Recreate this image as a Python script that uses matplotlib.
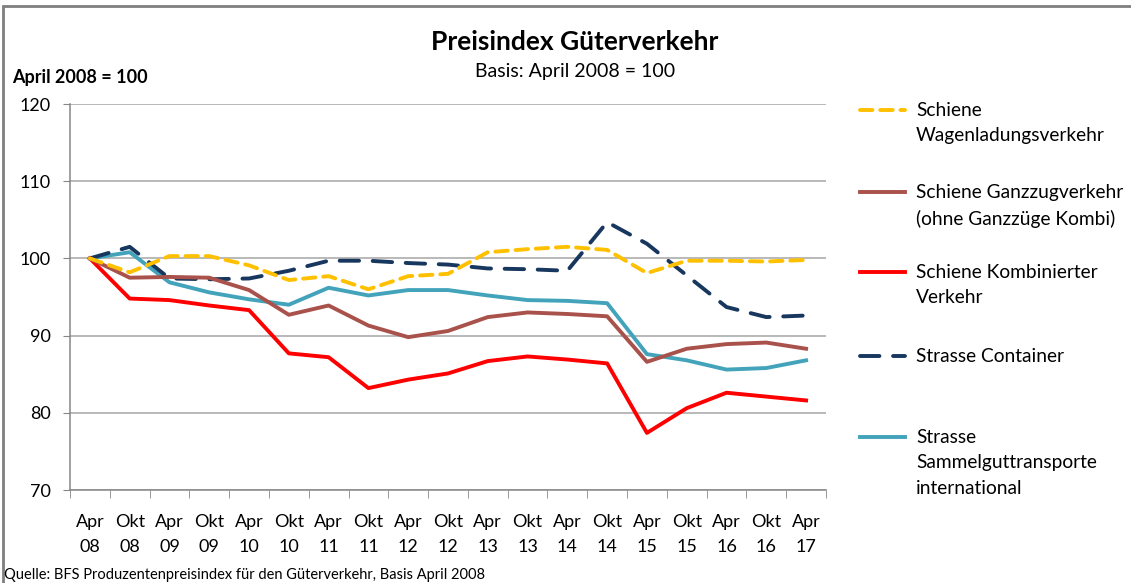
import matplotlib
matplotlib.use("Agg")
import matplotlib.pyplot as plt
from matplotlib.lines import Line2D
from matplotlib.patches import Rectangle
from matplotlib.ticker import FixedLocator, MultipleLocator

plt.rcParams['font.family'] = ['Lato', 'DejaVu Sans']

# periods: April / October 2008 .. April 2017
periods = ["Apr\n08", "Okt\n08", "Apr\n09", "Okt\n09", "Apr\n10", "Okt\n10", "Apr\n11",
           "Okt\n11", "Apr\n12", "Okt\n12", "Apr\n13", "Okt\n13", "Apr\n14", "Okt\n14",
           "Apr\n15", "Okt\n15", "Apr\n16", "Okt\n16", "Apr\n17"]

wagenladung = [100, 98.2, 100.3, 100.3, 99.1, 97.2, 97.7, 96.0, 97.7, 98.0,
               100.8, 101.2, 101.5, 101.1, 98.1, 99.7, 99.7, 99.6, 99.8]
ganzzug = [100, 97.5, 97.6, 97.5, 95.9, 92.7, 93.9, 91.3, 89.8, 90.6,
           92.4, 93.0, 92.8, 92.5, 86.6, 88.3, 88.9, 89.1, 88.3]
kombiniert = [100, 94.8, 94.6, 93.9, 93.3, 87.7, 87.2, 83.2, 84.3, 85.1,
              86.7, 87.3, 86.9, 86.4, 77.4, 80.6, 82.6, 82.1, 81.6]
container = [100, 101.5, 97.4, 97.3, 97.4, 98.4, 99.7, 99.7, 99.4, 99.2,
             98.7, 98.6, 98.4, 104.7, 101.9, 97.8, 93.7, 92.4, 92.6]
sammelgut = [100, 100.8, 96.9, 95.6, 94.7, 94.0, 96.2, 95.2, 95.9, 95.9,
             95.2, 94.6, 94.5, 94.2, 87.6, 86.8, 85.6, 85.8, 86.8]

series = [
    ("Schiene\nWagenladungsverkehr", wagenladung, "#FFC000", (3.2, 2.0)),
    ("Schiene Ganzzugverkehr\n(ohne Ganzzüge Kombi)", ganzzug, "#A9514B", None),
    ("Schiene Kombinierter\nVerkehr", kombiniert, "#FF0000", None),
    ("Strasse Container", container, "#17375E", (5.0, 3.5)),
    ("Strasse\nSammelguttransporte\ninternational", sammelgut, "#42A3BB", None),
]

fig = plt.figure(figsize=(11.31, 5.83), dpi=100)
ax = fig.add_axes([0.0619, 0.1595, 0.6684, 0.6621])

x = list(range(len(periods)))
lw = 2.8
# draw in reverse so the yellow line sits on top like the original
for label, vals, color, dash in reversed(series):
    if dash:
        ax.plot(x, vals, color=color, lw=lw, dashes=dash, dash_capstyle='round',
                solid_joinstyle='round')
    else:
        ax.plot(x, vals, color=color, lw=lw, solid_joinstyle='round')

ax.set_xlim(-0.5, len(periods) - 0.5)
ax.set_ylim(70, 120)
ax.yaxis.set_major_locator(MultipleLocator(10))
ax.yaxis.grid(True, color="#A6A6A6", lw=1.1)
ax.set_axisbelow(True)

ax.set_xticks(x)
ax.set_xticklabels(periods, fontsize=13, linespacing=1.75)
ax.xaxis.set_minor_locator(FixedLocator([i - 0.5 for i in range(len(periods) + 1)]))
ax.tick_params(axis='x', which='major', length=0, pad=17)
ax.tick_params(axis='x', which='minor', length=6, color="#868686", direction='out')
ax.tick_params(axis='y', length=5, color="#868686", labelsize=13, pad=9)

for s in ("top", "right"):
    ax.spines[s].set_visible(False)
for s in ("left", "bottom"):
    ax.spines[s].set_color("#868686")
    ax.spines[s].set_linewidth(1.1)

W, H = 1131, 583

def fx(px):
    return px / W

def fy(py):
    return 1 - py / H

fig.text(fx(575), fy(42), "Preisindex Güterverkehr", fontsize=19, fontweight='bold',
         ha='center', va='center')
fig.text(fx(575), fy(72), "Basis: April 2008 = 100", fontsize=14, ha='center', va='center')
fig.text(fx(12), fy(77), "April 2008 = 100", fontsize=13, fontweight='bold',
         ha='left', va='center')
fig.text(fx(4), fy(575), "Quelle: BFS Produzentenpreisindex für den Güterverkehr, Basis April 2008",
         fontsize=10.5, ha='left', va='center')

# legend, placed by hand to follow the uneven spacing of the original
legend_y = [110, 192, 272, 356, 437]
for (label, vals, color, dash), ly in zip(series, legend_y):
    ln = Line2D([fx(860), fx(905)], [fy(ly), fy(ly)], transform=fig.transFigure,
                color=color, lw=lw)
    if dash:
        ln.set_dashes(dash)
        ln.set_dash_capstyle('round')
    fig.add_artist(ln)
    fig.text(fx(916), fy(ly - 8), label, fontsize=13.8, ha='left', va='top',
             linespacing=1.6)

# outer frame of the chart
fig.add_artist(Rectangle((fx(3), -0.05), 1.05, fy(6) + 0.05, transform=fig.transFigure,
                         fill=False, edgecolor="#7F7F7F", lw=2))

fig.savefig("out.png", dpi=100)
